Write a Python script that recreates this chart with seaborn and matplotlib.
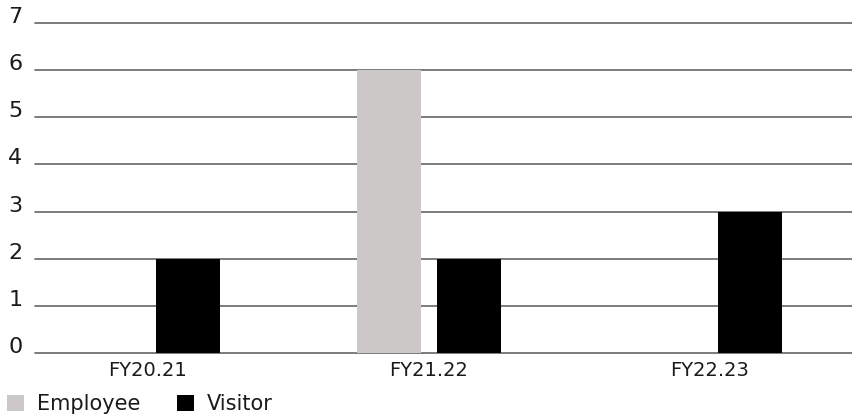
import pandas as pd
import matplotlib.pyplot as plt
import seaborn as sns

# data
years = ['FY20.21', 'FY21.22', 'FY22.23']
employee = [0, 6, 0]
visitor = [2, 2, 3]
yticks = [0, 1, 2, 3, 4, 5, 6, 7]

df = pd.DataFrame({
    'year': years * 2,
    'group': ['Employee'] * 3 + ['Visitor'] * 3,
    'count': employee + visitor,
})

sns.set_style('white')
plt.rcParams['font.family'] = ['DejaVu Sans']

fig = plt.figure(figsize=(8.52, 4.18), dpi=100)
ax = fig.add_axes([35 / 852, 65 / 418, 817 / 852, 330 / 418])

sns.barplot(data=df, x='year', y='count', hue='group',
            palette={'Employee': '#cdc8c8', 'Visitor': '#000000'},
            width=0.57, gap=0.2, saturation=1, linewidth=0, ax=ax, zorder=3)

ax.set_xlim(-0.40, 2.505)
ax.set_ylim(0, 7)
ax.set_yticks(yticks)
ax.set_yticklabels([str(t) for t in yticks], fontsize=16, color='#1a1a1a')
for lbl in ax.get_yticklabels():
    lbl.set_verticalalignment('baseline')
ax.tick_params(axis='y', length=0, pad=9)
ax.tick_params(axis='x', length=0, pad=6, labelsize=14, labelcolor='#1a1a1a')
ax.grid(axis='y', color='#666666', linewidth=1.2, zorder=0)
for gl in ax.get_ygridlines():
    gl.set_clip_on(False)
ax.set_axisbelow(True)
for s in ax.spines.values():
    s.set_visible(False)
ax.set_xlabel('')
ax.set_ylabel('')

handles, labels = ax.get_legend_handles_labels()
ax.get_legend().remove()
fig.legend(handles, labels, loc='lower left', bbox_to_anchor=(-0.006, -0.021),
           ncol=2, frameon=False, fontsize=15, handlelength=0.82, handleheight=0.82,
           handletextpad=0.6, columnspacing=1.75, borderaxespad=0.2,
           labelcolor='#1a1a1a')

plt.savefig('out.png', dpi=100)
